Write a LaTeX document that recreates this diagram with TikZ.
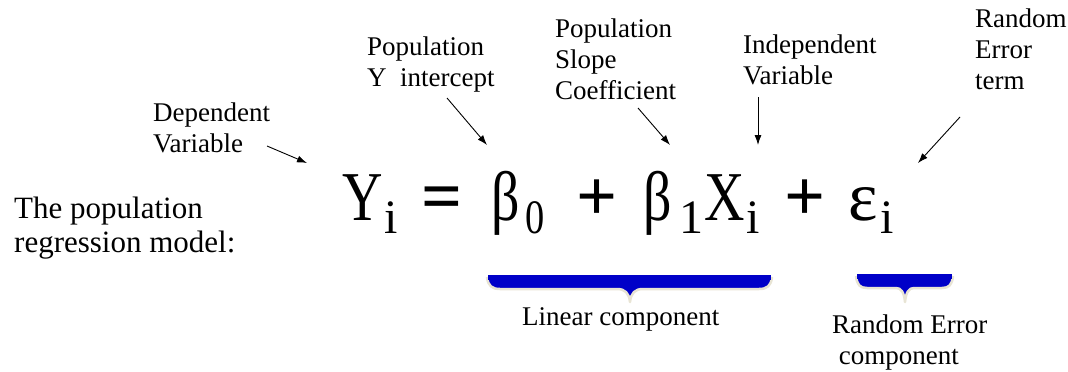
\documentclass[tikz,border=0pt]{standalone}
\usepackage{fontspec}
\setmainfont{Liberation Serif}
\newfontfamily\tnr{Liberation Serif}
\usetikzlibrary{arrows.meta}
\definecolor{braceblue}{RGB}{0,0,200}
\definecolor{bracerim}{RGB}{232,228,212}
\newcommand\nrw[1]{\scalebox{0.8}[1]{#1}}
\begin{document}
\begin{tikzpicture}[x=1pt,y=-1pt,
  lbl/.style={anchor=north west,inner sep=0pt,align=left,font=\tnr\fontsize{27}{31}\selectfont},
  big/.style={anchor=base,inner sep=0pt,font=\tnr\fontsize{70}{80}\selectfont},
  op/.style={anchor=base,inner sep=0pt,font=\tnr\bfseries\fontsize{72}{80}\selectfont},
  sub/.style={anchor=base,inner sep=0pt,font=\tnr\fontsize{48}{56}\selectfont},
  arr/.style={-{Latex[length=10pt,width=7pt]},line width=0.9pt,black},
  brace/.style={fill=braceblue,draw=bracerim,line width=2.5pt,line join=round}]
\useasboundingbox (0,0) rectangle (1068,372);
% labels
\node[lbl] (dep) at (153,103) {Dependent\\Variable};
\node[lbl] (inter) at (367,37) {Population\\Y\ \ intercept};
\node[lbl] (slope) at (555,19) {Population\\Slope\\Coefficient};
\node[lbl] (indep) at (743,35) {Independent\\Variable};
\node[lbl] (rand) at (975,9) {Random\\Error\\term};
\node[lbl,font=\tnr\fontsize{31}{34}\selectfont] (model) at (14,197) {The population\\regression model:};
% equation
\node[big] (Y) at (363,220) {\nrw{Y}};
\node[sub] (Yi) at (391,233) {i};
\node[op] (eq) at (442.5,220) {=};
\node[big] (b0) at (506,220) {\nrw{β}};
\node[sub] (b0s) at (535,233) {\nrw{0}};
\node[op] (p1) at (597,220) {+};
\node[big] (b1) at (658,220) {\nrw{β}};
\node[sub] (b1s) at (691,233) {1};
\node[big] (X) at (725,220) {\nrw{X}};
\node[sub] (Xi) at (753,233) {i};
\node[op] (p2) at (805,220) {+};
\node[big] (eps) at (863.5,220) {ε};
\node[sub] (epsi) at (887,233) {i};
% arrow endpoints
\coordinate (depS) at (267,146); \coordinate (depT) at (307,163);
\coordinate (intS) at (447,98); \coordinate (intT) at (487,145);
\coordinate (slS) at (638,108); \coordinate (slT) at (670,145);
\coordinate (inS) at (758,97); \coordinate (inT) at (758,145);
\coordinate (raS) at (960,117); \coordinate (raT) at (918,163);
\draw[arr] (depS) -- (depT);
\draw[arr] (intS) -- (intT);
\draw[arr] (slS) -- (slT);
\draw[arr] (inS) -- (inT);
\draw[arr] (raS) -- (raT);
% braces
\path[brace] (487,277) .. controls (488,286) and (492,289) .. (500,289) -- (617,289)
  .. controls (625,289) and (629,293) .. (630,302) .. controls (631,293) and (635,289) .. (643,289)
  -- (759,289) .. controls (767,289) and (771,286) .. (772,277);
\fill[braceblue] (488,275) rectangle (771,280);
\path[brace] (856,276) .. controls (857,285) and (860,288) .. (867,288) -- (896,288)
  .. controls (901,288) and (904,292) .. (905,302) .. controls (906,292) and (909,288) .. (914,288)
  -- (942,288) .. controls (949,288) and (952,285) .. (953,276);
\fill[braceblue] (857,274) rectangle (952,279);
\node[lbl] (lin) at (522,307) {Linear component};
\node[lbl] (rerr) at (832,315) {Random Error\\\ component};
\end{tikzpicture}
\end{document}
